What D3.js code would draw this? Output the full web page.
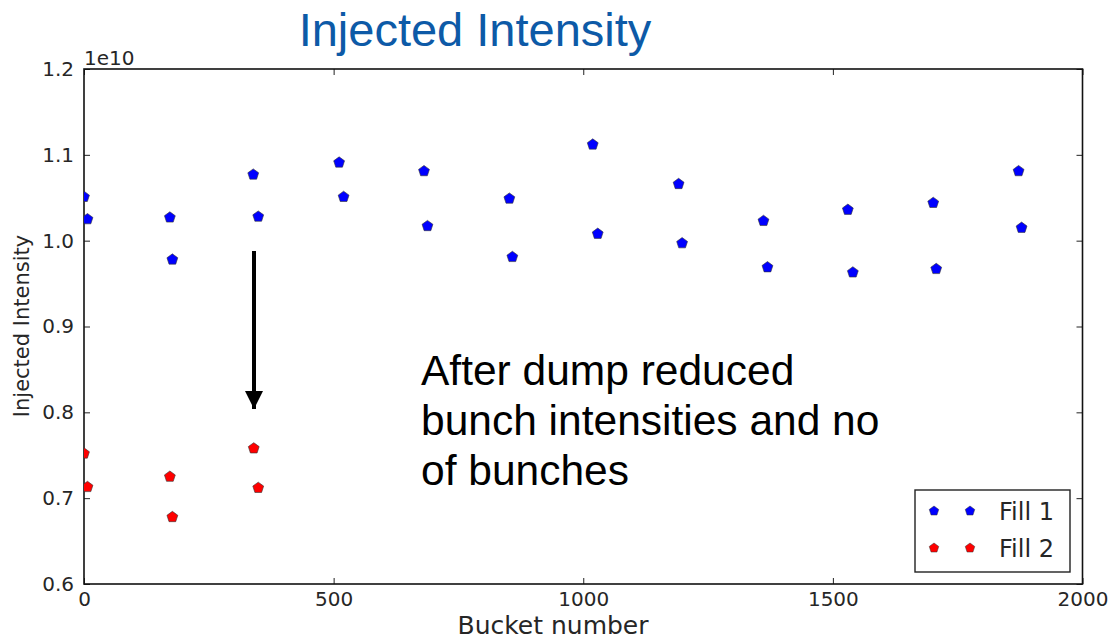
<!DOCTYPE html>
<html>
<head>
<meta charset="utf-8">
<script src="https://cdn.jsdelivr.net/npm/d3@7"></script>
<style>
  html, body { margin: 0; padding: 0; background: #fff; }
  svg { display: block; }
</style>
</head>
<body>
<svg id="chart" width="1111" height="641"></svg>
<script>
// Injected intensity per bucket, in units of 1e10 charges
const fill1Buckets = [0, 7, 172, 177, 339, 349, 511, 520, 681, 688, 852, 858,
                      1019, 1029, 1191, 1198, 1361, 1369, 1530, 1540, 1701, 1707, 1872, 1878];
const fill1Values  = [1.051, 1.025, 1.027, 0.978, 1.077, 1.028, 1.091, 1.051, 1.081, 1.017, 1.049, 0.981,
                      1.112, 1.008, 1.066, 0.997, 1.023, 0.969, 1.036, 0.963, 1.044, 0.967, 1.081, 1.015];
const fill2Buckets = [0, 7, 172, 177, 340, 349];
const fill2Values  = [0.752, 0.713, 0.725, 0.678, 0.758, 0.712];

const xTicks = [0, 500, 1000, 1500, 2000];
const yTicks = [0.6, 0.7, 0.8, 0.9, 1.0, 1.1, 1.2];
const seriesNames = ["Fill 1", "Fill 2"];
const seriesColors = ["#0000ff", "#ff0000"];

const svg = d3.select("#chart");
const plotLeft = 84, plotRight = 1082.5, plotTop = 69, plotBottom = 584;

const x = d3.scaleLinear().domain([0, 2000]).range([plotLeft, plotRight]);
const y = d3.scaleLinear().domain([0.6, 1.2]).range([plotBottom, plotTop]);

const axisFont = "'DejaVu Sans', sans-serif";
const tickColor = "#262626";

// Title
svg.append("text")
  .attr("x", 475).attr("y", 46)
  .attr("text-anchor", "middle")
  .style("font-family", "'Liberation Sans', Arial, sans-serif")
  .style("font-size", "47px")
  .attr("fill", "#0d5aa7")
  .text("Injected Intensity");

// Plot clip
svg.append("clipPath").attr("id", "plot-clip")
  .append("rect").attr("x", plotLeft).attr("y", plotTop)
  .attr("width", plotRight - plotLeft).attr("height", plotBottom - plotTop);

// Axes with inward ticks on all four sides
const tickLen = 6;
function styleAxis(g) {
  g.select(".domain").remove();
  g.selectAll(".tick line").attr("stroke", "#222").attr("stroke-width", 1);
  g.selectAll(".tick text")
    .style("font-family", axisFont).style("font-size", "20px").attr("fill", tickColor);
}
svg.append("g").attr("transform", `translate(0,${plotBottom})`)
  .call(d3.axisBottom(x).tickValues(xTicks).tickSizeInner(-tickLen).tickSizeOuter(0).tickPadding(8).tickFormat(d3.format("d")))
  .call(styleAxis);
svg.append("g").attr("transform", `translate(0,${plotTop})`)
  .call(d3.axisTop(x).tickValues(xTicks).tickSizeInner(-tickLen).tickSizeOuter(0).tickFormat(""))
  .call(styleAxis);
svg.append("g").attr("transform", `translate(${plotLeft},0)`)
  .call(d3.axisLeft(y).tickValues(yTicks).tickSizeInner(-tickLen).tickSizeOuter(0).tickPadding(10).tickFormat(d3.format(".1f")))
  .call(styleAxis);
svg.append("g").attr("transform", `translate(${plotRight},0)`)
  .call(d3.axisRight(y).tickValues(yTicks).tickSizeInner(-tickLen).tickSizeOuter(0).tickFormat(""))
  .call(styleAxis);

// Frame
svg.append("rect")
  .attr("x", plotLeft).attr("y", plotTop).attr("width", plotRight - plotLeft).attr("height", plotBottom - plotTop)
  .attr("fill", "none").attr("stroke", "#111").attr("stroke-width", 1.6);

// Offset label
svg.append("text")
  .attr("x", plotLeft).attr("y", plotTop - 4)
  .style("font-family", axisFont).style("font-size", "20px").attr("fill", tickColor)
  .text("1e10");

// Axis labels
svg.append("text")
  .attr("x", 553).attr("y", 634)
  .attr("text-anchor", "middle")
  .style("font-family", axisFont).style("font-size", "25px").attr("fill", tickColor)
  .text("Bucket number");
svg.append("text")
  .attr("transform", `translate(29,326) rotate(-90)`)
  .attr("text-anchor", "middle")
  .style("font-family", axisFont).style("font-size", "21px").attr("fill", tickColor)
  .text("Injected Intensity");

// Pentagon marker
const pentagon = (r) => {
  const pts = d3.range(5).map(i => {
    const a = -Math.PI / 2 + i * 2 * Math.PI / 5;
    return [r * Math.cos(a), r * Math.sin(a)];
  });
  return "M" + pts.map(p => p.join(",")).join("L") + "Z";
};

const plot = svg.append("g").attr("clip-path", "url(#plot-clip)");
const series = [
  { buckets: fill1Buckets, values: fill1Values, color: seriesColors[0] },
  { buckets: fill2Buckets, values: fill2Values, color: seriesColors[1] }
];
series.forEach(s => {
  plot.selectAll(null)
    .data(s.buckets.map((b, i) => [b, s.values[i]]))
    .enter().append("path")
    .attr("d", pentagon(5.7))
    .attr("transform", d => `translate(${x(d[0])},${y(d[1])})`)
    .attr("fill", s.color)
    .attr("stroke", "#333").attr("stroke-width", 0.6);
});

// Legend
const legend = svg.append("g");
legend.append("rect")
  .attr("x", 915).attr("y", 490).attr("width", 155).attr("height", 82)
  .attr("fill", "#fff").attr("stroke", "#222").attr("stroke-width", 1.4);
seriesNames.forEach((name, i) => {
  const ly = 511 + i * 37;
  [934, 970].forEach(lx => {
    legend.append("path").attr("d", pentagon(5))
      .attr("transform", `translate(${lx},${ly})`)
      .attr("fill", seriesColors[i]).attr("stroke", "#333").attr("stroke-width", 0.5);
  });
  legend.append("text")
    .attr("x", 999).attr("y", ly + 9)
    .style("font-family", axisFont).style("font-size", "24px").attr("fill", tickColor)
    .text(name);
});

// Annotation arrow
const defs = svg.append("defs");
defs.append("marker")
  .attr("id", "arrowhead").attr("viewBox", "0 0 10 10")
  .attr("refX", 10).attr("refY", 5)
  .attr("markerWidth", 4.5).attr("markerHeight", 4.5)
  .attr("markerUnits", "strokeWidth")
  .attr("orient", "auto")
  .append("path").attr("d", "M0,0L10,5L0,10Z").attr("fill", "#000");
svg.append("line")
  .attr("x1", 254).attr("y1", 251).attr("x2", 254).attr("y2", 409)
  .attr("stroke", "#000").attr("stroke-width", 4)
  .attr("marker-end", "url(#arrowhead)");

// Annotation text
const note = svg.append("text")
  .style("font-family", "'Liberation Sans', Arial, sans-serif")
  .style("font-size", "42.5px").attr("fill", "#000");
["After dump reduced", "bunch intensities and no", "of bunches"].forEach((line, i) => {
  note.append("tspan").attr("x", 421).attr("y", 385 + i * 50).text(line);
});
</script>
</body>
</html>
